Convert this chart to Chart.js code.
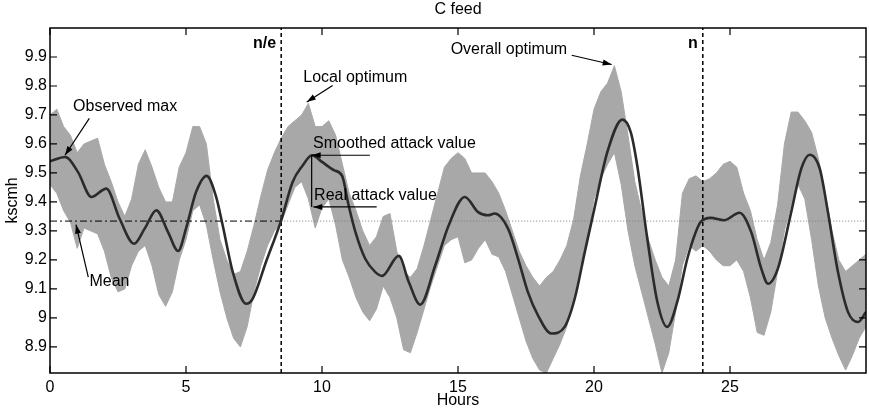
<!DOCTYPE html>
<html>
<head>
<meta charset="utf-8">
<script src="https://cdn.jsdelivr.net/npm/chart.js@4.4.1/dist/chart.umd.min.js"></script>
<style>
  html, body { margin: 0; padding: 0; background: #fff; }
  canvas { display: block; }
</style>
</head>
<body>
<canvas id="cfeed" width="869" height="412"></canvas>
<script>
// C feed: raw signal (grey band, read as upper/lower envelope) + smoothed curve

const bandHours = [
  0, 0.25, 0.5, 0.75, 1, 1.25, 1.5, 1.75, 2, 2.25, 2.5, 2.75, 3, 3.25, 3.5, 3.75, 4, 4.25, 4.5, 4.75,
  5, 5.25, 5.5, 5.75, 6, 6.25, 6.5, 6.75, 7, 7.25, 7.5, 7.75, 8, 8.25, 8.5, 8.75, 9, 9.25, 9.5, 9.75,
  10, 10.25, 10.5, 10.75, 11, 11.25, 11.5, 11.75, 12, 12.25, 12.5, 12.75, 13, 13.25, 13.5, 13.75, 14, 14.25, 14.5, 14.75,
  15, 15.25, 15.5, 15.75, 16, 16.25, 16.5, 16.75, 17, 17.25, 17.5, 17.75, 18, 18.25, 18.5, 18.75, 19, 19.25, 19.5, 19.75,
  20, 20.25, 20.5, 20.75, 21, 21.25, 21.5, 21.75, 22, 22.25, 22.5, 22.75, 23, 23.25, 23.5, 23.75, 24, 24.25, 24.5, 24.75,
  25, 25.25, 25.5, 25.75, 26, 26.25, 26.5, 26.75, 27, 27.25, 27.5, 27.75, 28, 28.25, 28.5, 28.75, 29, 29.25, 29.5, 29.75,
  30
];
const bandUpper = [
  9.70, 9.72, 9.66, 9.63, 9.57, 9.60, 9.61, 9.62, 9.53, 9.47, 9.40, 9.35, 9.41, 9.53, 9.58, 9.52, 9.45, 9.40, 9.40, 9.52,
  9.57, 9.66, 9.66, 9.60, 9.41, 9.27, 9.20, 9.15, 9.16, 9.23, 9.32, 9.42, 9.51, 9.57, 9.62, 9.66, 9.68, 9.70, 9.74, 9.66,
  9.66, 9.68, 9.63, 9.53, 9.43, 9.37, 9.30, 9.25, 9.28, 9.35, 9.36, 9.23, 9.16, 9.14, 9.17, 9.25, 9.34, 9.43, 9.52, 9.55,
  9.57, 9.55, 9.50, 9.50, 9.50, 9.47, 9.43, 9.37, 9.30, 9.23, 9.18, 9.14, 9.11, 9.14, 9.16, 9.20, 9.25, 9.34, 9.49, 9.60,
  9.72, 9.78, 9.81, 9.87, 9.78, 9.63, 9.47, 9.37, 9.27, 9.20, 9.14, 9.11, 9.20, 9.43, 9.48, 9.49, 9.47, 9.48, 9.50, 9.53,
  9.54, 9.52, 9.43, 9.37, 9.27, 9.20, 9.26, 9.39, 9.60, 9.71, 9.71, 9.68, 9.64, 9.55, 9.43, 9.30, 9.20, 9.16, 9.18, 9.20,
  9.22
];
const bandLower = [
  9.46, 9.43, 9.37, 9.33, 9.24, 9.31, 9.30, 9.29, 9.23, 9.14, 9.09, 9.10, 9.18, 9.23, 9.25, 9.18, 9.08, 9.04, 9.09, 9.20,
  9.27, 9.37, 9.39, 9.32, 9.20, 9.09, 9.00, 8.93, 8.90, 8.97, 9.09, 9.18, 9.25, 9.30, 9.33, 9.39, 9.45, 9.47, 9.41, 9.31,
  9.38, 9.41, 9.32, 9.20, 9.14, 9.07, 9.02, 8.99, 9.03, 9.11, 9.07, 9.00, 8.89, 8.88, 8.95, 9.03, 9.11, 9.18, 9.25, 9.27,
  9.28, 9.19, 9.20, 9.24, 9.27, 9.22, 9.21, 9.16, 9.08, 9.00, 8.92, 8.86, 8.82, 8.81, 8.86, 8.91, 8.97, 9.07, 9.18, 9.27,
  9.41, 9.48, 9.53, 9.57, 9.46, 9.30, 9.18, 9.09, 9.00, 8.91, 8.81, 8.88, 9.02, 9.18, 9.25, 9.23, 9.25, 9.23, 9.20, 9.18,
  9.18, 9.20, 9.16, 9.07, 8.95, 8.94, 9.02, 9.16, 9.30, 9.39, 9.46, 9.41, 9.27, 9.11, 9.00, 8.93, 8.87, 8.82, 8.87, 8.93,
  8.97
];

const smoothHours = [
  0, 0.56, 1.03, 1.52, 2.07, 2.56, 3.09, 3.48, 3.91, 4.34, 4.71, 5.0, 5.37, 5.76, 6.1, 6.35, 6.72, 7.21, 7.45, 7.94,
  8.49, 8.92, 9.29, 9.63, 10.0, 10.45, 10.74, 10.98, 11.23, 11.59, 11.96, 12.21, 12.82, 13.19, 13.61, 14.16, 14.66, 15.25, 15.74, 16.1,
  16.35, 16.84, 17.21, 17.57, 17.94, 18.43, 18.92, 19.29, 19.66, 20.0, 20.49, 21.04, 21.35, 21.59, 21.96, 22.33, 22.69, 23.06, 23.43, 23.74,
  23.92, 24.29, 24.78, 25.35, 25.78, 26.15, 26.4, 26.76, 27.25, 27.62, 27.93, 28.3, 28.6, 28.97, 29.34, 29.71, 30.0
];
const smoothValues = [
  9.540, 9.555, 9.503, 9.417, 9.446, 9.342, 9.256, 9.308, 9.371, 9.296, 9.231, 9.308, 9.434, 9.490, 9.420, 9.319, 9.158, 9.049, 9.066, 9.193,
  9.334, 9.469, 9.526, 9.561, 9.538, 9.509, 9.490, 9.388, 9.296, 9.204, 9.158, 9.145, 9.214, 9.124, 9.046, 9.180, 9.320, 9.417, 9.365, 9.354,
  9.360, 9.308, 9.204, 9.089, 9.009, 8.946, 8.969, 9.066, 9.227, 9.371, 9.572, 9.684, 9.641, 9.526, 9.273, 9.055, 8.969, 9.055, 9.204, 9.296,
  9.331, 9.345, 9.337, 9.363, 9.296, 9.170, 9.118, 9.170, 9.365, 9.515, 9.563, 9.515, 9.365, 9.158, 9.020, 8.986, 9.020
];

const meanValue = 9.334;
const markerHours = [8.5, 24];
const markerLabels = ['n/e', 'n'];
const xTicks = [0, 5, 10, 15, 20, 25];
const yTicks = [8.9, 9, 9.1, 9.2, 9.3, 9.4, 9.5, 9.6, 9.7, 9.8, 9.9];
const xRange = [0, 30];
const yRange = [8.81, 10];

// annotation texts (left edge / vertical middle) and arrows, in data units
const notes = [
  { text: 'Observed max', at: [0.85, 9.73], from: [1.445, 9.688], to: [0.551, 9.561] },
  { text: 'Mean', at: [1.45, 9.127], from: [1.408, 9.141], to: [0.956, 9.322] },
  { text: 'Local optimum', at: [9.31, 9.83], from: [10.39, 9.802], to: [9.44, 9.745] },
  { text: 'Smoothed attack value', at: [9.67, 9.601], from: [11.76, 9.561], to: [9.62, 9.561] },
  { text: 'Real attack value', at: [9.71, 9.423], from: [12.01, 9.383], to: [9.68, 9.383] },
  { text: 'Overall optimum', at: [14.73, 9.927], from: [19.18, 9.906], to: [20.65, 9.874] }
];
const connector = [[9.62, 9.561], [9.62, 9.383]];

const FONT = '16px "Liberation Sans", Arial, sans-serif';
const BOLD = 'bold 16px "Liberation Sans", Arial, sans-serif';

const pts = (xs, ys) => xs.map((x, i) => ({ x, y: ys[i] }));

function drawArrow(ctx, x1, y1, x2, y2) {
  ctx.beginPath();
  ctx.moveTo(x1, y1);
  ctx.lineTo(x2, y2);
  ctx.stroke();
  const a = Math.atan2(y2 - y1, x2 - x1);
  const len = 9, w = 3;
  ctx.beginPath();
  ctx.moveTo(x2, y2);
  ctx.lineTo(x2 - len * Math.cos(a) + w * Math.sin(a), y2 - len * Math.sin(a) - w * Math.cos(a));
  ctx.lineTo(x2 - len * Math.cos(a) - w * Math.sin(a), y2 - len * Math.sin(a) + w * Math.cos(a));
  ctx.closePath();
  ctx.fill();
}

const framePlugin = {
  id: 'frame',
  afterDatasetsDraw(chart) {
    const { ctx, chartArea: a, scales: { x, y } } = chart;
    ctx.save();
    ctx.strokeStyle = '#000';
    ctx.fillStyle = '#000';

    // box + inner ticks on all four sides
    ctx.lineWidth = 1.5;
    ctx.strokeRect(a.left, a.top, a.right - a.left, a.bottom - a.top);
    ctx.lineWidth = 1.2;
    ctx.beginPath();
    xTicks.forEach(v => {
      const px = x.getPixelForValue(v);
      ctx.moveTo(px, a.bottom); ctx.lineTo(px, a.bottom - 7);
      ctx.moveTo(px, a.top); ctx.lineTo(px, a.top + 7);
    });
    yTicks.forEach(v => {
      const py = y.getPixelForValue(v);
      ctx.moveTo(a.left, py); ctx.lineTo(a.left + 7, py);
      ctx.moveTo(a.right, py); ctx.lineTo(a.right - 7, py);
    });
    ctx.stroke();

    // title
    ctx.font = FONT;
    ctx.textAlign = 'center';
    ctx.textBaseline = 'middle';
    ctx.fillText('C feed', (a.left + a.right) / 2, 10);

    // phase labels next to the dashed lines
    ctx.font = BOLD;
    ctx.textAlign = 'right';
    markerHours.forEach((h, i) => {
      ctx.fillText(markerLabels[i], x.getPixelForValue(h) - 5, a.top + 16);
    });

    // annotations
    ctx.lineWidth = 1.2;
    ctx.beginPath();
    ctx.moveTo(x.getPixelForValue(connector[0][0]), y.getPixelForValue(connector[0][1]));
    ctx.lineTo(x.getPixelForValue(connector[1][0]), y.getPixelForValue(connector[1][1]));
    ctx.stroke();
    notes.forEach(n => {
      drawArrow(ctx,
        x.getPixelForValue(n.from[0]), y.getPixelForValue(n.from[1]),
        x.getPixelForValue(n.to[0]), y.getPixelForValue(n.to[1]));
    });
    ctx.font = FONT;
    ctx.textAlign = 'left';
    notes.forEach(n => {
      ctx.fillText(n.text, x.getPixelForValue(n.at[0]), y.getPixelForValue(n.at[1]));
    });
    ctx.restore();
  }
};

const vline = h => [{ x: h, y: yRange[0] }, { x: h, y: yRange[1] }];

new Chart(document.getElementById('cfeed'), {
  type: 'line',
  data: {
    datasets: [
      { label: 'smoothed', data: pts(smoothHours, smoothValues), borderColor: '#2b2b2b', borderWidth: 2.6,
        cubicInterpolationMode: 'monotone', pointRadius: 0, fill: false },
      { label: 'n/e', data: vline(markerHours[0]), borderColor: '#000', borderWidth: 1.5, borderDash: [4, 3],
        pointRadius: 0, fill: false },
      { label: 'n', data: vline(markerHours[1]), borderColor: '#000', borderWidth: 1.5, borderDash: [4, 3],
        pointRadius: 0, fill: false },
      { label: 'mean', data: [{ x: xRange[0], y: meanValue }, { x: markerHours[0], y: meanValue }],
        borderColor: '#000', borderWidth: 1, borderDash: [7, 3, 2, 3], pointRadius: 0, fill: false },
      { label: 'mean (cont.)', data: [{ x: markerHours[0], y: meanValue }, { x: xRange[1], y: meanValue }],
        borderColor: '#7a7a7a', borderWidth: 1, borderDash: [1, 2], pointRadius: 0, fill: false },
      { label: 'raw upper', data: pts(bandHours, bandUpper), borderColor: '#a8a8a8', borderWidth: 1,
        backgroundColor: '#a8a8a8', pointRadius: 0, tension: 0, fill: '+1' },
      { label: 'raw lower', data: pts(bandHours, bandLower), borderColor: '#a8a8a8', borderWidth: 1,
        pointRadius: 0, tension: 0, fill: false }
    ]
  },
  options: {
    responsive: false,
    animation: false,
    layout: { padding: { top: 28, right: 3, left: 0, bottom: 0 } },
    plugins: { legend: { display: false }, tooltip: { enabled: false }, title: { display: false } },
    scales: {
      x: {
        type: 'linear', min: xRange[0], max: xRange[1],
        grid: { display: false, drawTicks: false }, border: { display: false },
        afterBuildTicks: s => { s.ticks = xTicks.map(v => ({ value: v })); },
        afterFit: s => { s.height = 39; },
        ticks: { color: '#000', font: { family: '"Liberation Sans", Arial', size: 16 }, padding: 5,
                 maxRotation: 0, callback: v => String(v) },
        title: { display: true, text: 'Hours', color: '#000', padding: { top: 0, bottom: 2 },
                 font: { family: '"Liberation Sans", Arial', size: 16 } }
      },
      y: {
        type: 'linear', min: yRange[0], max: yRange[1],
        grid: { display: false, drawTicks: false }, border: { display: false },
        afterBuildTicks: s => { s.ticks = yTicks.map(v => ({ value: v })); },
        afterFit: s => { s.width = 50; },
        ticks: { color: '#000', font: { family: '"Liberation Sans", Arial', size: 16 }, padding: 3,
                 callback: v => String(+v.toFixed(1)) },
        title: { display: true, text: 'kscmh', color: '#000', padding: { top: 3, bottom: 0 },
                 font: { family: '"Liberation Sans", Arial', size: 16 } }
      }
    }
  },
  plugins: [framePlugin]
});
</script>
</body>
</html>
